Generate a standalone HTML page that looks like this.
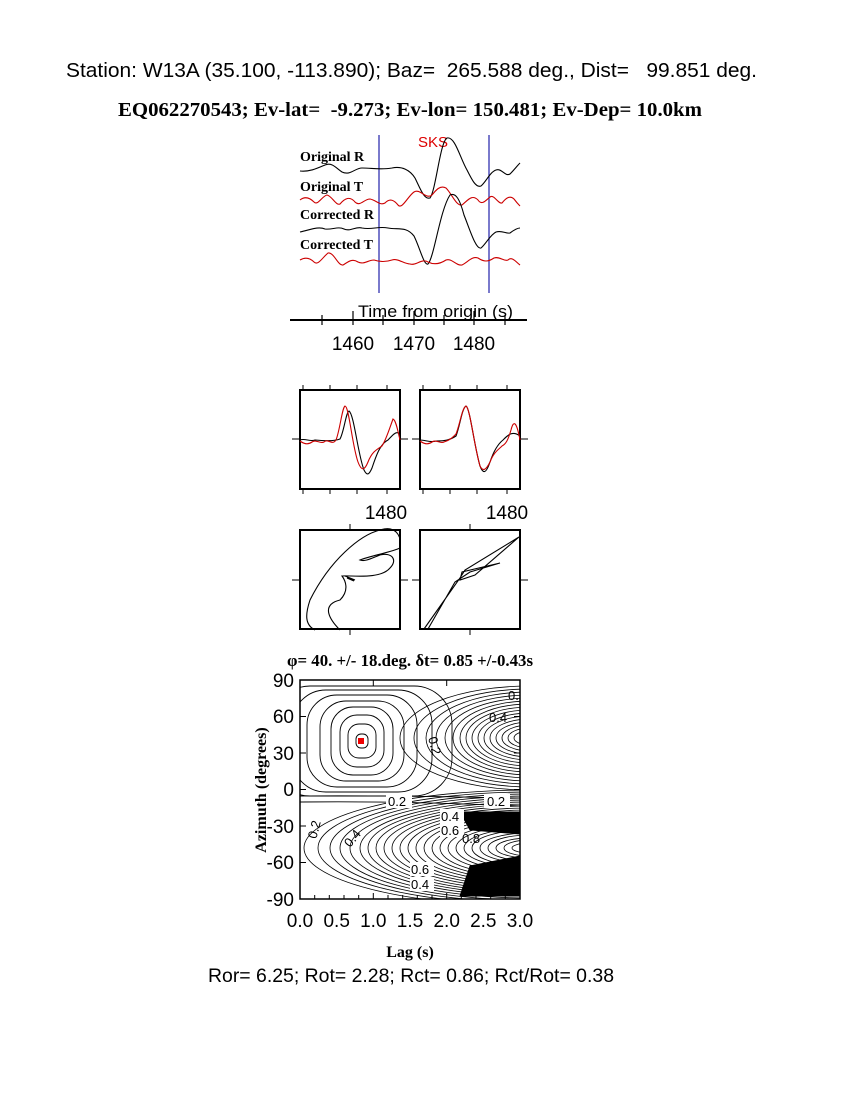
<!DOCTYPE html>
<html><head><style>
body{margin:0;background:#fff;width:850px;height:1100px;overflow:hidden}
svg text{white-space:pre}
</style></head><body>
<svg width="850" height="1100" xmlns="http://www.w3.org/2000/svg">
<defs><clipPath id="c"><rect x="300" y="680" width="220" height="219"/></clipPath></defs>
<text x="66" y="77" font-family="Liberation Sans" font-size="20.5" textLength="691" lengthAdjust="spacingAndGlyphs">Station: W13A (35.100, -113.890); Baz=  265.588 deg., Dist=   99.851 deg.</text>
<text x="118" y="116" font-family="Liberation Serif" font-weight="bold" font-size="20" textLength="584" lengthAdjust="spacingAndGlyphs">EQ062270543; Ev-lat=  -9.273; Ev-lon= 150.481; Ev-Dep= 10.0km</text>
<!-- traces -->
<g font-family="Liberation Serif" font-weight="bold" font-size="14">
<text x="300" y="161">Original R</text><text x="300" y="191">Original T</text>
<text x="300" y="219">Corrected R</text><text x="300" y="249">Corrected T</text></g>
<text x="418" y="147" font-family="Liberation Sans" font-size="15" fill="#d00">SKS</text>
<line x1="379" y1="135" x2="379" y2="293" stroke="#22a" stroke-width="1.2"/>
<line x1="489" y1="135" x2="489" y2="293" stroke="#22a" stroke-width="1.2"/>
<g fill="none" stroke-width="1.1">
<path stroke="#000" d="M300,171 C310,172 318,168 325,165 C332,162 336,168 342,172 C350,176 355,168 362,168 C372,168 380,170 392,168 C402,166 410,170 415,178 C420,188 424,200 430,198 C436,190 440,142 447,138 C455,136 460,158 467,170 C472,180 476,188 481,186 C486,182 490,172 496,170 C502,168 505,177 510,174 C514,170 517,166 520,163"/>
<path stroke="#c00" d="M300,200 C305,196 310,198 314,202 C318,206 322,196 327,195 C332,196 336,206 340,204 C345,198 350,196 355,202 C360,207 364,199 370,199 C376,200 380,206 385,203 C390,198 394,200 398,205 C402,210 408,196 414,192 C420,188 426,200 432,195 C436,190 440,185 446,188 C452,194 456,206 462,205 C468,200 472,194 478,200 C482,206 486,200 490,197 C494,194 498,204 502,203 C506,198 510,195 514,199 C517,203 519,205 520,206"/>
<path stroke="#000" d="M300,232 C310,230 318,226 325,229 C332,230 338,226 344,229 C350,232 356,226 362,228 C372,230 378,226 388,228 C398,230 406,226 414,236 C420,248 424,266 428,264 C434,258 440,210 450,195 C456,192 460,200 464,215 C470,230 476,250 481,248 C486,244 490,235 496,232 C502,230 506,234 510,233 C514,230 517,228 520,228"/>
<path stroke="#c00" d="M300,260 C305,257 310,258 314,262 C318,266 322,258 328,253 C334,252 338,266 343,265 C348,262 352,258 358,262 C364,265 368,260 374,260 C380,262 386,262 392,260 C398,258 404,264 410,264 C416,266 422,258 428,262 C434,265 440,264 446,260 C452,258 456,266 462,265 C468,262 472,256 478,258 C484,262 488,262 494,258 C500,256 504,262 508,260 C512,256 516,262 520,265"/>
</g>
<text x="358" y="317" font-family="Liberation Sans" font-size="17" textLength="155" lengthAdjust="spacingAndGlyphs">Time from origin (s)</text>
<line x1="290" y1="320" x2="527" y2="320" stroke="#000" stroke-width="2"/>
<g stroke="#000" stroke-width="1.2">
<line x1="322" y1="315" x2="322" y2="325"/><line x1="353" y1="311" x2="353" y2="325"/><line x1="383" y1="315" x2="383" y2="325"/><line x1="414" y1="311" x2="414" y2="325"/><line x1="444" y1="315" x2="444" y2="325"/><line x1="474" y1="311" x2="474" y2="325"/><line x1="505" y1="315" x2="505" y2="325"/></g>
<g font-family="Liberation Sans" font-size="19" text-anchor="middle"><text x="353" y="350">1460</text><text x="414" y="350">1470</text><text x="474" y="350">1480</text>
<text x="386" y="519">1480</text><text x="507" y="519">1480</text></g>
<!-- panels -->
<g fill="none" stroke="#000" stroke-width="2">
<rect x="300" y="390" width="100" height="99"/><rect x="420" y="390" width="100" height="99"/>
<rect x="300" y="530" width="100" height="99"/><rect x="420" y="530" width="100" height="99"/></g>
<g stroke="#000" stroke-width="1">
<path d="M303,385v5M330,385v5M357,385v5M387,385v5M423,385v5M450,385v5M477,385v5M507,385v5M303,489v5M330,489v5M357,489v5M387,489v5M423,489v5M450,489v5M477,489v5M507,489v5M292,439h8M400,439h8M412,439h8M520,439h8M350,524v6M470,524v6M350,629v6M470,629v6M292,580h8M400,580h8M412,580h8M520,580h8"/></g>
<g fill="none" stroke-width="1.1">
<path stroke="#000" d="M300,440 C305,438 310,442 315,440 C325,441 335,441 340,439 C344,432 346,412 349,411 C354,414 358,455 364,470 C367,476 369,475 372,468 C376,456 380,444 388,440 C392,436 396,430 400,434"/>
<path stroke="#c00" d="M300,441 C304,444 308,445 312,442 C316,439 320,444 324,442 C328,438 332,446 336,440 C340,430 342,408 345,406 C349,406 352,445 358,462 C361,470 364,472 368,462 C372,452 376,450 382,446 C386,440 389,430 393,419 C396,420 398,432 400,440"/>
<path stroke="#000" d="M420,440 C426,440 430,443 436,441 C445,441 450,440 456,436 C460,426 462,408 466,406 C470,408 474,445 480,466 C483,474 486,474 490,462 C494,450 498,444 503,440 C507,436 512,430 520,436"/>
<path stroke="#c00" d="M420,441 C424,444 428,445 432,442 C436,439 440,444 444,442 C450,440 452,438 456,434 C460,424 462,408 466,406 C470,408 474,445 480,466 C483,472 486,470 490,462 C494,452 498,450 502,446 C506,444 508,440 511,430 C514,418 517,424 520,440"/>
<path stroke="#000" d="M340,630 C330,620 320,605 340,600 C350,590 345,580 342,576 C350,575 380,580 390,568 C398,560 392,552 380,555 C372,558 365,562 360,560 C370,556 392,552 400,548 C402,535 395,525 380,530 C360,535 330,560 310,600 C305,615 305,625 315,630"/>
<path stroke="#000" d="M345,576 L355,580 L347,578 L354,581"/>
<path stroke="#000" d="M424,629 L460,578 L465,570 L519,537 L475,575 L460,580 L462,572 L500,563 L470,572 L455,582 L428,629"/>
</g>
<!-- contour -->
<text x="410" y="666" font-family="Liberation Serif" font-weight="bold" font-size="16.5" text-anchor="middle" textLength="246" lengthAdjust="spacingAndGlyphs">φ= 40. +/- 18.deg. δt= 0.85 +/-0.43s</text>
<g clip-path="url(#c)" fill="none" stroke="#000" stroke-width="0.9">
<path d="M460,812 L520,812 L520,834 L470,830 Z" fill="#000"/>
<path d="M470,866 L520,856 L520,896 L460,896 Z" fill="#000"/>
<g transform="translate(362,741)">
<rect x="-6" y="-7" width="12" height="14" rx="5"/><rect x="-14" y="-17" width="28" height="34" rx="11"/><rect x="-22" y="-26" width="44" height="52" rx="17"/><rect x="-31" y="-34" width="62" height="68" rx="22"/><rect x="-42" y="-40" width="84" height="80" rx="26"/><rect x="-55" y="-46" width="110" height="92" rx="30"/><rect x="-70" y="-51" width="140" height="102" rx="34"/><rect x="-90" y="-55" width="180" height="110" rx="38"/></g>
<g transform="translate(530,738)" stroke-width="0.8">
<ellipse rx="10" ry="4"/><ellipse rx="16" ry="7"/><ellipse rx="22" ry="10"/><ellipse rx="28" ry="13"/><ellipse rx="34" ry="16"/><ellipse rx="40" ry="19"/><ellipse rx="46" ry="22"/><ellipse rx="52" ry="25"/><ellipse rx="58" ry="28"/><ellipse rx="64" ry="31"/><ellipse rx="70" ry="34"/><ellipse rx="77" ry="37"/><ellipse rx="85" ry="40"/><ellipse rx="94" ry="43"/><ellipse rx="104" ry="46"/><ellipse rx="116" ry="49"/><ellipse rx="130" ry="52"/></g>
<g transform="translate(530,848)" stroke-width="0.8">
<ellipse rx="10" ry="3"/><ellipse rx="18" ry="5"/><ellipse rx="26" ry="8"/><ellipse rx="34" ry="10"/><ellipse rx="42" ry="13"/><ellipse rx="50" ry="15"/><ellipse rx="58" ry="18"/><ellipse rx="66" ry="20"/><ellipse rx="74" ry="23"/><ellipse rx="82" ry="25"/><ellipse rx="90" ry="28"/><ellipse rx="98" ry="30"/><ellipse rx="106" ry="32"/><ellipse rx="114" ry="34"/><ellipse rx="122" ry="36"/><ellipse rx="130" ry="38"/><ellipse rx="138" ry="40"/><ellipse rx="146" ry="42"/><ellipse rx="154" ry="44"/><ellipse rx="162" ry="46"/><ellipse rx="170" ry="48"/><ellipse rx="180" ry="50"/><ellipse rx="190" ry="52"/><ellipse rx="200" ry="54"/><ellipse rx="212" ry="56"/><ellipse rx="226" ry="58"/></g>
<path d="M300,796 C380,795 450,797 520,798M300,802 C380,801 450,803 520,806"/>
</g>
<rect x="358" y="738" width="6" height="6" fill="#e00"/>
<g font-family="Liberation Sans" font-size="13" fill="#000">
<rect x="386" y="794" width="26" height="14" fill="#fff"/><text x="388" y="806">0.2</text>
<rect x="484" y="794" width="26" height="14" fill="#fff"/><text x="487" y="806">0.2</text>
<rect x="440" y="809" width="24" height="14" fill="#fff"/><text x="441" y="821">0.4</text>
<rect x="440" y="823" width="24" height="14" fill="#fff"/><text x="441" y="835">0.6</text>
<text x="462" y="843">0.8</text>
<rect x="410" y="862" width="24" height="14" fill="#fff"/><text x="411" y="874">0.6</text>
<rect x="410" y="877" width="24" height="14" fill="#fff"/><text x="411" y="889">0.4</text>
<text x="489" y="722">0.4</text><text x="508" y="700">0.</text>
<text x="428" y="738" transform="rotate(75 428 738)">0.2</text>
<text x="306" y="838" transform="rotate(-75 312 832)">0.2</text>
<text x="350" y="848" transform="rotate(-50 350 848)">0.4</text></g>
<rect x="300" y="680" width="220" height="219" fill="none" stroke="#000" stroke-width="1.5"/>
<g stroke="#000" stroke-width="1">
<path d="M300,899v-6M314.7,899v-4M329.3,899v-4M344,899v-4M358.7,899v-4M373.3,899v-6M388,899v-4M402.7,899v-4M417.3,899v-4M432,899v-4M446.7,899v-6M461.3,899v-4M476,899v-4M490.7,899v-4M505.3,899v-4M520,899v-6"/>
<path d="M300,680v6M373.3,680v6M446.7,680v6M520,680v6"/>
<path d="M300,680h6M300,716.5h6M300,753h6M300,789.5h6M300,826h6M300,862.5h6M300,899h6M520,680h-6M520,716.5h-6M520,753h-6M520,789.5h-6M520,826h-6M520,862.5h-6"/></g>
<g font-family="Liberation Sans" font-size="19" text-anchor="end"><text x="294" y="687">90</text><text x="294" y="723">60</text><text x="294" y="760">30</text><text x="294" y="796">0</text><text x="294" y="833">-30</text><text x="294" y="869">-60</text><text x="294" y="906">-90</text></g>
<g font-family="Liberation Sans" font-size="19" text-anchor="middle"><text x="300" y="927">0.0</text><text x="336.7" y="927">0.5</text><text x="373.3" y="927">1.0</text><text x="410" y="927">1.5</text><text x="446.7" y="927">2.0</text><text x="483.3" y="927">2.5</text><text x="520" y="927">3.0</text></g>
<text x="410" y="957" font-family="Liberation Serif" font-weight="bold" font-size="16" text-anchor="middle">Lag (s)</text>
<text x="266" y="790" font-family="Liberation Serif" font-weight="bold" font-size="16" text-anchor="middle" transform="rotate(-90 266 790)">Azimuth (degrees)</text>
<text x="208" y="982" font-family="Liberation Sans" font-size="19" textLength="406" lengthAdjust="spacingAndGlyphs">Ror= 6.25; Rot= 2.28; Rct= 0.86; Rct/Rot= 0.38</text>
</svg>
</body></html>
